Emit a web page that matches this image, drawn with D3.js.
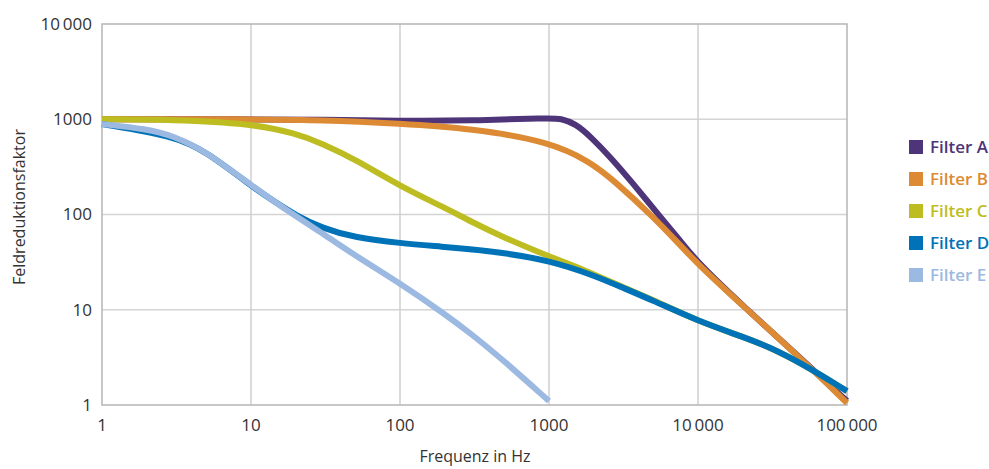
<!DOCTYPE html>
<html>
<head>
<meta charset="utf-8">
<script src="https://cdn.jsdelivr.net/npm/d3@7"></script>
<style>
  body { margin: 0; background: #fff; }
  svg { display: block; font-family: "Open Sans", sans-serif; }
</style>
</head>
<body>
<div id="chart"></div>
<script>
// data
const names = ['Filter A', 'Filter B', 'Filter C', 'Filter D', 'Filter E'];
const colors = ['#4e3479', '#dd8a34', '#bdbd22', '#0072b7', '#9cb9e1'];

const freqA = [1, 10, 30, 100, 300, 1000, 1200, 1500, 1900, 2700, 3500, 5600, 7600, 10000, 20000, 50000, 100000];
const valA  = [1000, 1000, 990, 960, 965, 1030, 1020, 900, 660, 370, 230, 94, 53, 31, 11, 3.0, 1.1];

const freqB = [1, 10, 30, 100, 300, 1000, 1900, 2700, 5000, 7600, 10000, 20000, 50000, 100000];
const valB  = [1000, 1000, 985, 900, 800, 585, 356, 230, 95, 47.6, 30, 11, 3.0, 1.05];

const freqC = [1, 3, 10, 20, 30, 50, 100, 200, 300, 500, 1000, 1500, 2000, 3000, 5000, 10000, 20000, 30000, 50000, 100000];
const valC  = [1000, 990, 900, 710, 557, 380, 198, 118, 84, 57, 36.3, 28.5, 23.5, 17.8, 12.7, 7.6, 5.2, 4.07, 2.72, 1.4];

const freqD = [1, 3, 5, 10, 14, 20, 30, 50, 100, 200, 300, 500, 1000, 2000, 3000, 5000, 10000, 20000, 30000, 50000, 100000];
const valD  = [890, 670, 460, 200, 140, 98, 72, 57, 50, 45.7, 43, 39.5, 33, 23, 17.5, 12.5, 7.6, 5.2, 4.07, 2.72, 1.4];

const freqE = [1, 2, 3, 5, 10, 20, 30, 50, 100, 200, 300, 500, 1000];
const valE  = [890, 790, 670, 460, 203, 95, 64, 37, 19, 9, 5.6, 2.9, 1.1];

const xTicks = [1, 10, 100, 1000, 10000, 100000];
const xTickLabels = ['1', '10', '100', '1000', '10\u2009000', '100\u2009000'];
const yTicks = [1, 10, 100, 1000, 10000];
const yTickLabels = ['1', '10', '100', '1000', '10\u2009000'];

const series = [
  { f: freqA, v: valA }, { f: freqB, v: valB }, { f: freqC, v: valC },
  { f: freqD, v: valD }, { f: freqE, v: valE }
];

const W = 989, H = 469;
const margin = { top: 24, left: 102, right: 142, bottom: 64 };
const width = W - margin.left - margin.right;
const height = H - margin.top - margin.bottom;

const svg = d3.select('#chart').append('svg')
  .attr('width', W).attr('height', H);

const g = svg.append('g')
  .attr('transform', `translate(${margin.left}, ${margin.top})`);

const x = d3.scaleLog().domain([1, 100000]).range([0, width]);
const y = d3.scaleLog().domain([1, 10000]).range([height, 0]);

// grid
g.selectAll('.hgrid').data(yTicks.slice(1, -1)).enter().append('line')
  .attr('x1', 0).attr('x2', width)
  .attr('y1', d => y(d)).attr('y2', d => y(d))
  .attr('stroke', '#d4d4d4').attr('stroke-width', 1.5);

g.selectAll('.vgrid').data(xTicks.slice(1, -1)).enter().append('line')
  .attr('y1', 0).attr('y2', height)
  .attr('x1', d => x(d)).attr('x2', d => x(d))
  .attr('stroke', '#cfcfcf').attr('stroke-width', 1.5);

g.append('rect')
  .attr('width', width).attr('height', height)
  .attr('fill', 'none').attr('stroke', '#b5b5b5').attr('stroke-width', 1.5);

// tick labels
g.selectAll('.ytick').data(yTicks).enter().append('text')
  .attr('x', -10).attr('y', d => y(d)).attr('dy', '0.35em')
  .attr('text-anchor', 'end').attr('font-size', 17).attr('fill', '#333')
  .text((d, i) => yTickLabels[i]);

g.selectAll('.xtick').data(xTicks).enter().append('text')
  .attr('x', d => x(d)).attr('y', height + 26)
  .attr('text-anchor', 'middle').attr('font-size', 17).attr('fill', '#333')
  .text((d, i) => xTickLabels[i]);

svg.append('text')
  .attr('x', 475).attr('y', 462)
  .attr('text-anchor', 'middle').attr('font-size', 16).attr('fill', '#333')
  .text('Frequenz in Hz');

svg.append('text')
  .attr('transform', 'translate(25, 207) rotate(-90)')
  .attr('text-anchor', 'middle').attr('font-size', 16).attr('fill', '#333')
  .text('Feldreduktionsfaktor');

// lines
const line = d3.line()
  .x(d => x(d[0]))
  .y(d => y(d[1]))
  .curve(d3.curveBasis);

series.forEach((s, i) => {
  g.append('path')
    .datum(s.f.map((f, j) => [f, s.v[j]]))
    .attr('fill', 'none')
    .attr('stroke', colors[i])
    .attr('stroke-width', 6)
    .attr('d', line);
});

// legend
const legend = svg.append('g').attr('transform', 'translate(909, 147)');
names.forEach((n, i) => {
  const row = legend.append('g').attr('transform', `translate(0, ${i * 32})`);
  row.append('rect')
    .attr('x', 0).attr('y', -7).attr('width', 14).attr('height', 14)
    .attr('fill', colors[i]);
  row.append('text')
    .attr('x', 21).attr('y', 0).attr('dy', '0.36em')
    .attr('font-size', 17).attr('font-weight', 600)
    .attr('fill', colors[i])
    .text(n);
});
</script>
</body>
</html>
